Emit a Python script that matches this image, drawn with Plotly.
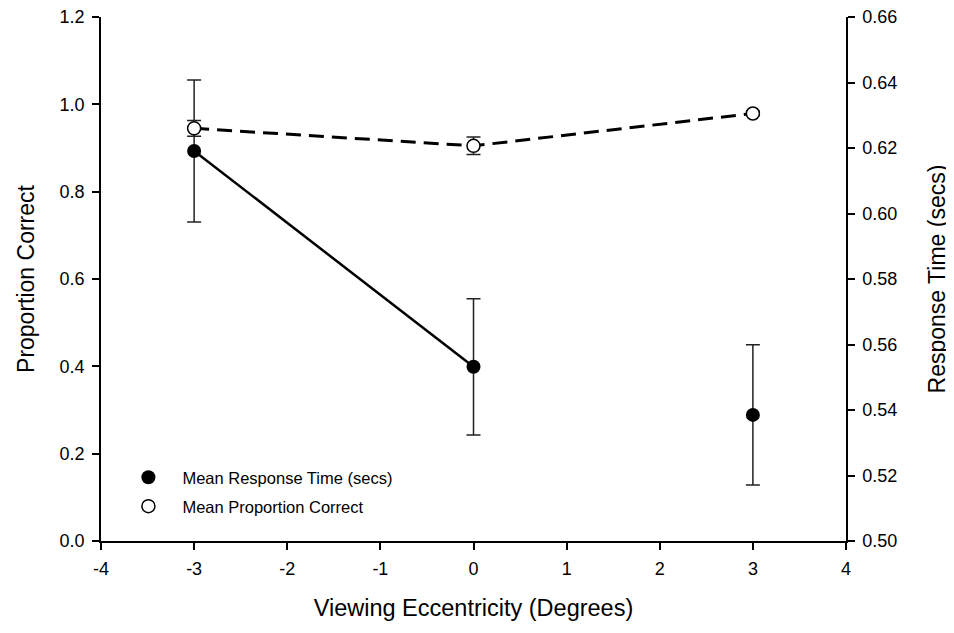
import plotly.graph_objects as go

# Data
ecc = [-3, 0, 3]
rt_mean = [0.6191, 0.5532, 0.5385]
rt_err = [0.0217, 0.0208, 0.0214]
pc_mean = [0.945, 0.905, 0.979]
pc_err = [0.018, 0.020, 0.005]

x_ticks = [-4, -3, -2, -1, 0, 1, 2, 3, 4]
x_ticktext = ["-4", "-3", "-2", "-1", "0", "1", "2", "3", "4"]

FONT = "Liberation Sans, Arial, sans-serif"

fig = go.Figure()

# Response time (right axis) -> yaxis 'y'
fig.add_trace(go.Scatter(
    x=ecc[:2], y=rt_mean[:2], mode="lines",
    line=dict(color="black", width=2.5), yaxis="y", showlegend=False, hoverinfo="skip"))
fig.add_trace(go.Scatter(
    x=ecc, y=rt_mean, mode="markers", yaxis="y", showlegend=False,
    marker=dict(symbol="circle", size=14, color="black"),
    error_y=dict(type="data", array=rt_err, color="#222222", thickness=1.5, width=7)))

# Proportion correct (left axis) -> yaxis 'y2' overlaying
fig.add_trace(go.Scatter(
    x=ecc, y=pc_mean, mode="lines+markers", yaxis="y2", showlegend=False,
    line=dict(color="black", width=3, dash="15px,8px"),
    marker=dict(symbol="circle", size=13, color="white", line=dict(color="black", width=1.5)),
    error_y=dict(type="data", array=pc_err, color="#222222", thickness=1.5, width=7)))

# Legend entries
fig.add_trace(go.Scatter(
    x=[None], y=[None], mode="markers", yaxis="y", name="Mean Response Time (secs)",
    marker=dict(symbol="circle", size=14, color="black"), legend="legend"))
fig.add_trace(go.Scatter(
    x=[None], y=[None], mode="markers", yaxis="y2", name="Mean Proportion Correct",
    marker=dict(symbol="circle", size=13, color="white", line=dict(color="black", width=1.5)),
    legend="legend2"))

axis_common = dict(showgrid=False, zeroline=False, showline=True, linecolor="black",
                   linewidth=1.5, ticks="outside", ticklen=7, tickwidth=1.5, tickcolor="black",
                   automargin=False, ticklabeloverflow="allow", ticklabelstandoff=4,
                   tickfont=dict(family=FONT, size=18, color="black"))

fig.update_layout(
    width=954, height=633,
    margin=dict(l=93, r=116, t=9, b=100),
    plot_bgcolor="white", paper_bgcolor="white",
    font=dict(family=FONT, color="black"),
    xaxis=dict(range=[-4, 4], tickvals=x_ticks, ticktext=x_ticktext,
               title=dict(text="Viewing Eccentricity (Degrees)", font=dict(family=FONT, size=23.5), standoff=21),
               **axis_common),
    yaxis=dict(range=[0.50, 0.66], dtick=0.02, tick0=0.5, tickformat=".2f", side="right",
               title=dict(text="Response Time (secs)", font=dict(family=FONT, size=23), standoff=33),
               **axis_common),
    yaxis2=dict(range=[0, 1.2], dtick=0.2, tick0=0, tickformat=".1f", side="left", overlaying="y",
                title=dict(text="Proportion Correct", font=dict(family=FONT, size=23), standoff=19),
                **axis_common),
    legend=dict(x=0.018, y=0.121, xanchor="left", yanchor="middle", bgcolor="rgba(0,0,0,0)",
                itemwidth=58, font=dict(family=FONT, size=16.5, color="black")),
    legend2=dict(x=0.018, y=0.066, xanchor="left", yanchor="middle", bgcolor="rgba(0,0,0,0)",
                 itemwidth=58, font=dict(family=FONT, size=16.5, color="black")),
)

fig.write_html("out.html")
